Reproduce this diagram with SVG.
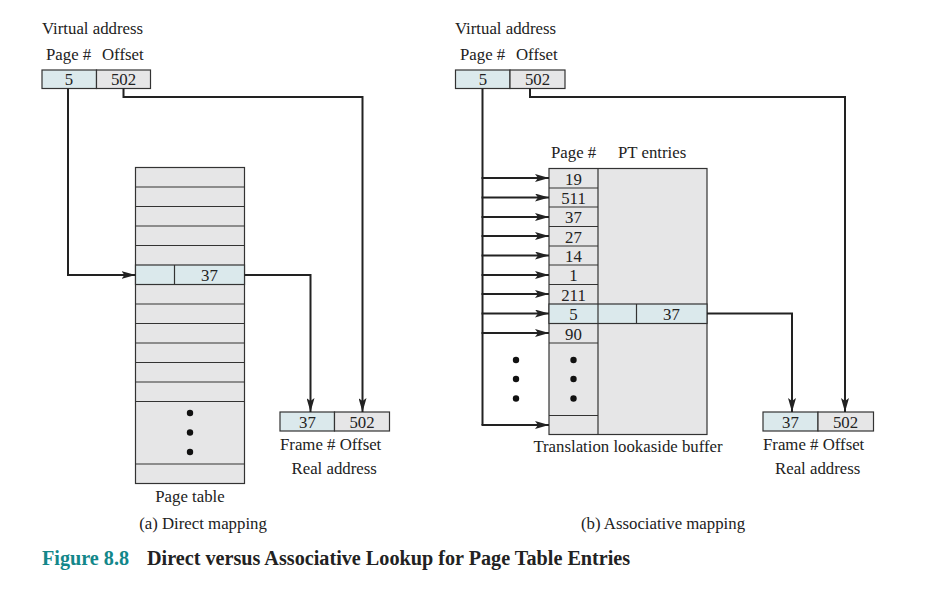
<svg xmlns="http://www.w3.org/2000/svg" width="927" height="595" viewBox="0 0 927 595">
<defs>
<marker id="ah" viewBox="0 0 14 8" refX="14" refY="4" markerWidth="14" markerHeight="8" markerUnits="userSpaceOnUse" orient="auto">
<path d="M0,0 L14,4 L0,8 L3,4 Z" fill="#222"/>
</marker>
<style>
text{font-family:"Liberation Serif","Times New Roman",serif;font-size:16.8px;fill:#222}
.c{text-anchor:middle}
.blue{fill:#dbe9ec;stroke:#333;stroke-width:1.2}
.gray{fill:#e6e6e7;stroke:#333;stroke-width:1.2}
.ln{stroke:#333;stroke-width:1.2;fill:none}
.wire{stroke:#222;stroke-width:2;fill:none}
.arr{stroke:#222;stroke-width:2;fill:none;marker-end:url(#ah)}
.dot{fill:#111}
.cap{font-weight:bold;font-size:20.2px}
</style>
</defs>
<rect width="927" height="595" fill="#fff"/>

<!-- (a) Direct mapping -->
<g id="va-left">
<text x="42" y="34">Virtual address</text>
<text x="46" y="60">Page #</text>
<text x="102" y="60">Offset</text>
<rect class="blue" x="42" y="70" width="54.5" height="18.5"/>
<rect class="gray" x="96.5" y="70" width="54" height="18.5"/>
<text class="c" x="69" y="85">5</text>
<text class="c" x="123.5" y="85">502</text>
</g>

<g id="page-table">
<rect class="gray" x="135.5" y="167.5" width="109" height="316"/>
<rect class="blue" x="135.5" y="265" width="109" height="19.5"/>
<line class="ln" x1="174.5" y1="265" x2="174.5" y2="284.5"/>
<g class="ln">
<line x1="135.5" y1="187" x2="244.5" y2="187"/>
<line x1="135.5" y1="206.5" x2="244.5" y2="206.5"/>
<line x1="135.5" y1="226" x2="244.5" y2="226"/>
<line x1="135.5" y1="245.5" x2="244.5" y2="245.5"/>
<line x1="135.5" y1="304" x2="244.5" y2="304"/>
<line x1="135.5" y1="323.5" x2="244.5" y2="323.5"/>
<line x1="135.5" y1="343" x2="244.5" y2="343"/>
<line x1="135.5" y1="362.5" x2="244.5" y2="362.5"/>
<line x1="135.5" y1="382" x2="244.5" y2="382"/>
<line x1="135.5" y1="401.5" x2="244.5" y2="401.5"/>
<line x1="135.5" y1="464" x2="244.5" y2="464"/>
</g>
<text class="c" x="209.5" y="280.5">37</text>
<circle class="dot" cx="190" cy="413" r="3.2"/>
<circle class="dot" cx="190" cy="432.5" r="3.2"/>
<circle class="dot" cx="190" cy="452" r="3.2"/>
<text class="c" x="190" y="502">Page table</text>
</g>

<g id="ra-left">
<rect class="blue" x="280" y="412" width="54.5" height="19"/>
<rect class="gray" x="334.5" y="412" width="55" height="19"/>
<text class="c" x="307.5" y="427.5">37</text>
<text class="c" x="362" y="427.5">502</text>
<text x="280" y="450">Frame # Offset</text>
<text x="291.5" y="474">Real address</text>
</g>

<text class="c" x="203" y="529">(a) Direct mapping</text>

<!-- (b) Associative mapping -->
<g id="va-right">
<text x="455" y="34">Virtual address</text>
<text x="460" y="60">Page #</text>
<text x="516" y="60">Offset</text>
<rect class="blue" x="455.5" y="70" width="54.5" height="18.5"/>
<rect class="gray" x="510" y="70" width="55" height="18.5"/>
<text class="c" x="483" y="85">5</text>
<text class="c" x="537.5" y="85">502</text>
</g>

<g id="tlb">
<text x="551" y="157.5">Page #</text>
<text x="618" y="157.5">PT entries</text>
<rect class="gray" x="549" y="168.5" width="158" height="266"/>
<rect class="blue" x="549" y="304" width="158" height="19.5"/>
<line class="ln" x1="598" y1="168.5" x2="598" y2="434.5"/>
<line class="ln" x1="636.5" y1="304" x2="636.5" y2="323.5"/>
<g class="ln">
<line x1="549" y1="188" x2="598" y2="188"/>
<line x1="549" y1="207" x2="598" y2="207"/>
<line x1="549" y1="226.5" x2="598" y2="226.5"/>
<line x1="549" y1="246" x2="598" y2="246"/>
<line x1="549" y1="265" x2="598" y2="265"/>
<line x1="549" y1="284.5" x2="598" y2="284.5"/>
<line x1="549" y1="343" x2="598" y2="343"/>
<line x1="549" y1="415.5" x2="598" y2="415.5"/>
</g>
<text class="c" x="573.5" y="184.5">19</text>
<text class="c" x="573.5" y="204">511</text>
<text class="c" x="573.5" y="223">37</text>
<text class="c" x="573.5" y="242.5">27</text>
<text class="c" x="573.5" y="262">14</text>
<text class="c" x="573.5" y="281">1</text>
<text class="c" x="573.5" y="300.5">211</text>
<text class="c" x="573.5" y="320">5</text>
<text class="c" x="671.5" y="320">37</text>
<text class="c" x="573.5" y="339.5">90</text>
<circle class="dot" cx="573.5" cy="360" r="3.2"/>
<circle class="dot" cx="573.5" cy="379" r="3.2"/>
<circle class="dot" cx="573.5" cy="398.5" r="3.2"/>
<text class="c" x="628" y="452">Translation lookaside buffer</text>
</g>

<circle class="dot" cx="516" cy="360" r="3.2"/>
<circle class="dot" cx="516" cy="379" r="3.2"/>
<circle class="dot" cx="516" cy="398.5" r="3.2"/>

<g id="ra-right">
<rect class="blue" x="763" y="412" width="55" height="19"/>
<rect class="gray" x="818" y="412" width="55.5" height="19"/>
<text class="c" x="790.5" y="427.5">37</text>
<text class="c" x="845.5" y="427.5">502</text>
<text x="763" y="450">Frame # Offset</text>
<text x="775" y="474">Real address</text>
</g>

<text class="c" x="663" y="529">(b) Associative mapping</text>

<g id="connectors">
<polyline class="arr" points="68,88.5 68,275 135.5,275"/>
<polyline class="arr" points="123.5,88.5 123.5,97 362.5,97 362.5,412"/>
<polyline class="arr" points="244.5,275 310.5,275 310.5,412"/>

<line class="wire" x1="482.5" y1="88.5" x2="482.5" y2="425"/>
<line class="arr" x1="481.5" y1="178" x2="549" y2="178"/>
<line class="arr" x1="481.5" y1="197.5" x2="549" y2="197.5"/>
<line class="arr" x1="481.5" y1="217" x2="549" y2="217"/>
<line class="arr" x1="481.5" y1="236" x2="549" y2="236"/>
<line class="arr" x1="481.5" y1="255.5" x2="549" y2="255.5"/>
<line class="arr" x1="481.5" y1="275" x2="549" y2="275"/>
<line class="arr" x1="481.5" y1="294" x2="549" y2="294"/>
<line class="arr" x1="481.5" y1="313.5" x2="549" y2="313.5"/>
<line class="arr" x1="481.5" y1="333" x2="549" y2="333"/>
<line class="arr" x1="481.5" y1="425" x2="549" y2="425"/>
<polyline class="arr" points="530,88.5 530,97 845,97 845,412"/>
<polyline class="arr" points="707,313.5 792,313.5 792,412"/>
</g>

<g id="caption">
<text class="cap" x="42" y="565" style="fill:#13878a">Figure 8.8</text>
<text class="cap" x="147" y="565">Direct versus Associative Lookup for Page Table Entries</text>
</g>
</svg>
